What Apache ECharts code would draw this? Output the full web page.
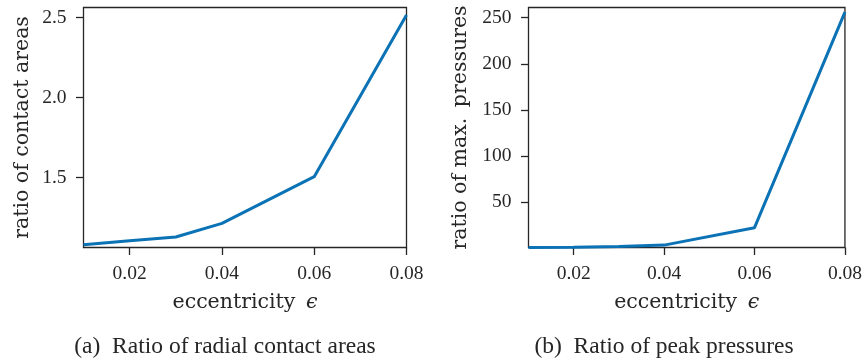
<!DOCTYPE html>
<html><head><meta charset="utf-8">
<script src="https://cdn.jsdelivr.net/npm/echarts@6/dist/echarts.min.js"></script>
<style>html,body{margin:0;padding:0;background:#fff}#c{width:865px;height:360px}</style>
</head><body><div id="c"></div>
<script>
const eccentricity = [0.01, 0.02, 0.03, 0.04, 0.06, 0.08];
const areaRatio = [1.08, 1.105, 1.128, 1.213, 1.505, 2.515];
const pressureRatio = [1.0, 1.3, 2.0, 3.6, 22.5, 256];
const xTicks = [0.02, 0.04, 0.06, 0.08];
const yTicksA = [1.5, 2.0, 2.5];
const yTicksB = [50, 100, 150, 200, 250];

const FONT = '"Liberation Serif", "DejaVu Serif", serif';
const NFONT = '"DejaVu Serif", "Liberation Serif", serif';
const INK = '#262626';
const BLUE = '#0a72b5';

function xAxis(idx) {
  return {
    type: 'value', gridIndex: idx, min: 0.01, max: 0.08,
    name: 'eccentricity\u2009 {e|ϵ}', nameLocation: 'middle', nameGap: 45,
    nameTextStyle: { fontFamily: NFONT, fontSize: 20.5, color: INK, rich: { e: { fontFamily: NFONT, fontStyle: 'italic', fontSize: 20.5, color: INK } } },
    axisLine: { show: false },
    axisTick: { show: true, inside: false, length: 7.5, customValues: xTicks, lineStyle: { color: INK, width: 1.3 } },
    axisLabel: { customValues: xTicks, fontFamily: FONT, fontSize: 19.5, color: INK, margin: 16, formatter: v => v.toFixed(2) },
    splitLine: { show: false }
  };
}
function yAxis(idx, min, max, ticks, name, fmt, gap) {
  return {
    type: 'value', gridIndex: idx, min: min, max: max,
    name: name, nameLocation: 'middle', nameGap: gap, nameRotate: 90,
    nameTextStyle: { fontFamily: NFONT, fontSize: 20.5, color: INK },
    axisLine: { show: false },
    axisTick: { show: true, inside: false, length: 7.5, customValues: ticks, lineStyle: { color: INK, width: 1.3 } },
    axisLabel: { customValues: ticks, fontFamily: FONT, fontSize: 19.5, color: INK, margin: 17, formatter: fmt },
    splitLine: { show: false }
  };
}

const chart = echarts.init(document.getElementById('c'), null, { renderer: 'canvas' });
chart.setOption({
  animation: false,
  backgroundColor: '#fff',
  grid: [
    { left: 83.5, top: 7.5, width: 323, height: 240, show: true, borderColor: INK, borderWidth: 1.3, backgroundColor: 'transparent' },
    { left: 528.5, top: 7.5, width: 318, height: 240, show: true, borderColor: INK, borderWidth: 1.3, backgroundColor: 'transparent' }
  ],
  title: [
    { text: '(a)  Ratio of radial contact areas', left: 220, top: 330, textAlign: 'center', textStyle: { fontFamily: FONT, fontSize: 23.5, fontWeight: 'normal', color: INK } },
    { text: '(b)  Ratio of peak pressures', left: 659, top: 330, textAlign: 'center', textStyle: { fontFamily: FONT, fontSize: 23.5, fontWeight: 'normal', color: INK } }
  ],
  xAxis: [xAxis(0), xAxis(1)],
  yAxis: [
    yAxis(0, 1.0625, 2.5625, yTicksA, 'ratio of contact areas', v => v.toFixed(1), 50),
    yAxis(1, 1, 261, yTicksB, 'ratio of max.\u2009 pressures', v => String(v), 57)
  ],
  series: [
    { type: 'line', xAxisIndex: 0, yAxisIndex: 0, data: eccentricity.map((x, i) => [x, areaRatio[i]]), showSymbol: false, lineStyle: { color: BLUE, width: 3 }, clip: true },
    { type: 'line', xAxisIndex: 1, yAxisIndex: 1, data: eccentricity.map((x, i) => [x, pressureRatio[i]]), showSymbol: false, lineStyle: { color: BLUE, width: 3 }, clip: true }
  ]
});
</script></body></html>
